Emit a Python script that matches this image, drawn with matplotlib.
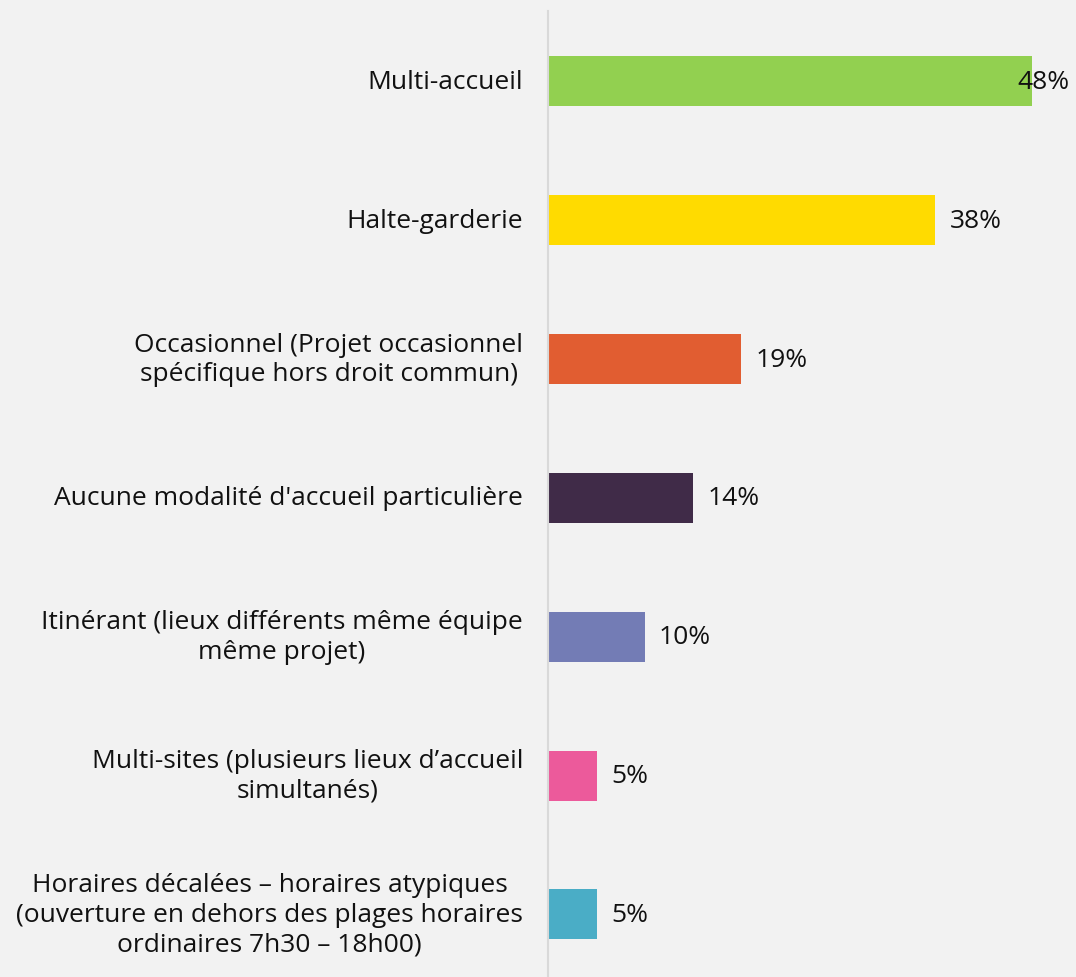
import matplotlib
matplotlib.use('Agg')
import matplotlib.pyplot as plt
from matplotlib import transforms

# data
categories = [
    "Multi-accueil",
    "Halte-garderie",
    "Occasionnel (Projet occasionnel\nspécifique hors droit commun)",
    "Aucune modalité d'accueil particulière",
    "Itinérant (lieux différents même équipe\nmême projet)",
    "Multi-sites (plusieurs lieux d\u2019accueil\nsimultanés)",
    "Horaires décalées \u2013 horaires atypiques\n(ouverture en dehors des plages horaires\nordinaires 7h30 \u2013 18h00)",
]
values = [47.6, 38.1, 19.0, 14.3, 9.5, 4.8, 4.8]
value_labels = ["48%", "38%", "19%", "14%", "10%", "5%", "5%"]
colors = ["#92d050", "#ffdb00", "#e15d31", "#402b48", "#737cb5", "#ec5a9b", "#4aadc6"]

bg = "#f2f2f2"
W, H = 1076, 978

fig = plt.figure(figsize=(W / 100, H / 100), dpi=100, facecolor=bg)
ax = fig.add_axes([548 / W, 0, 1 - 548 / W, (H - 11.6) / H])
ax.set_facecolor(bg)

y = list(range(len(categories)))
ax.barh(y, values, height=0.36, color=colors)
ax.set_xlim(0, (W - 548) / 10.17)
ax.set_ylim(6 + (978 - 914) / 138.8 - 0.01, -0.5 - 0.01)

for s in ["top", "right", "bottom"]:
    ax.spines[s].set_visible(False)
ax.spines["left"].set_color("#d9d9d9")
ax.spines["left"].set_linewidth(1.5)
ax.set_xticks([])
ax.set_yticks([])

font = "Open Sans"
fs = 19

# category labels, block right aligned, lines centred
lab_tr = transforms.offset_copy(ax.get_yaxis_transform(), fig=fig, x=-25, y=0, units="dots")
for yi, cat in zip(y, categories):
    ax.text(0, yi, cat, transform=lab_tr, ha="right", va="center",
            multialignment="center", fontsize=fs, family=font,
            color="#111111", linespacing=1.25)

# value labels
val_tr = transforms.offset_copy(ax.transData, fig=fig, x=14, y=0, units="dots")
edge_tr = transforms.offset_copy(ax.transAxes, fig=fig, x=-6, y=0, units="dots")
xmax = ax.get_xlim()[1]
for yi, v, lab in zip(y, values, value_labels):
    if v > xmax - 5:
        ax.text(1, yi, lab, transform=transforms.blended_transform_factory(edge_tr, ax.transData),
                ha="right", va="center", fontsize=fs, family=font, color="#111111")
    else:
        ax.text(v, yi, lab, transform=val_tr, ha="left", va="center",
                fontsize=fs, family=font, color="#111111")

fig.savefig("out.png", dpi=100, facecolor=bg)
